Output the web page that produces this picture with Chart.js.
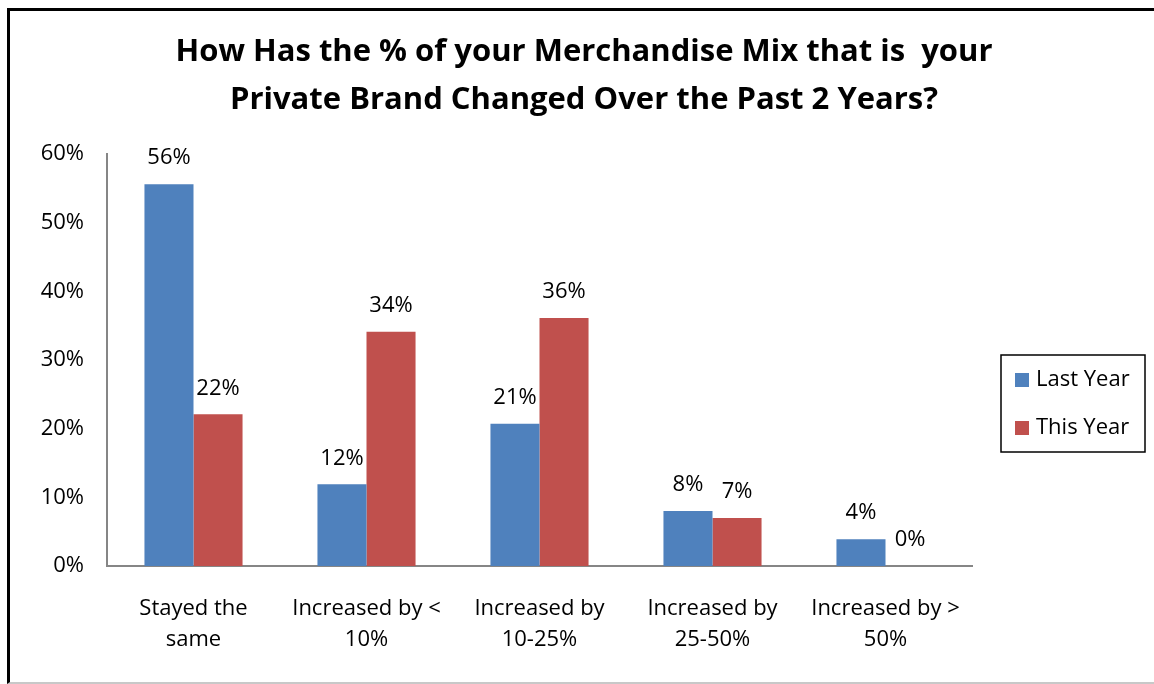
<!DOCTYPE html>
<html>
<head>
<meta charset="utf-8">
<script src="https://cdn.jsdelivr.net/npm/chart.js@4"></script>
<style>
  html, body { margin: 0; padding: 0; background: #fff; }
  #wrap { position: relative; width: 1154px; height: 684px; overflow: hidden; }
  #frame {
    position: absolute; left: 7px; top: 8px; width: 1200px; height: 676px;
    border-left: 3px solid #000; border-top: 3px solid #000;
    border-bottom: 2px solid #c8c8c8; box-sizing: border-box;
  }
  canvas { position: absolute; left: 0; top: 0; }
</style>
</head>
<body>
<div id="wrap">
  <div id="frame"></div>
  <canvas id="chart" width="1154" height="684"></canvas>
</div>
<script>
const titleLines = [
  "How Has the % of your Merchandise Mix that is  your",
  "Private Brand Changed Over the Past 2 Years?",
];
const categories = [
  ["Stayed the", "same"],
  ["Increased by <", "10%"],
  ["Increased by", "10-25%"],
  ["Increased by", "25-50%"],
  ["Increased by >", "50%"],
];
const lastYear = [55.6, 11.9, 20.7, 8.0, 3.9];
const thisYear = [22.1, 34.1, 36.1, 7.0, 0];
const seriesNames = ["Last Year", "This Year"];
const seriesColors = ["#4F81BD", "#C0504D"];

const FONT = "'Open Sans', Lato, sans-serif";

const extras = {
  id: "extras",
  afterDatasetsDraw(chart) {
    const { ctx } = chart;
    ctx.save();
    ctx.fillStyle = "#000";
    ctx.font = `22px ${FONT}`;
    ctx.textAlign = "center";
    ctx.textBaseline = "middle";
    chart.data.datasets.forEach((ds, i) => {
      chart.getDatasetMeta(i).data.forEach((bar, j) => {
        ctx.fillText(`${Math.round(ds.data[j])}%`, bar.x, bar.y - 26);
      });
    });
    ctx.restore();
  },
  afterDraw(chart) {
    const { ctx } = chart;
    ctx.save();
    // title
    ctx.fillStyle = "#000";
    ctx.font = `bold 31px ${FONT}`;
    ctx.textAlign = "center";
    ctx.textBaseline = "middle";
    titleLines.forEach((line, i) => ctx.fillText(line, 584, 52 + i * 48));

    // legend box
    ctx.strokeStyle = "#000";
    ctx.lineWidth = 1.5;
    ctx.strokeRect(1001, 355, 144, 97);
    ctx.font = `22px ${FONT}`;
    ctx.textAlign = "left";
    seriesNames.forEach((name, i) => {
      const y = 380 + i * 48;
      ctx.fillStyle = seriesColors[i];
      ctx.fillRect(1015, y - 7, 14, 14);
      ctx.fillStyle = "#000";
      ctx.fillText(name, 1036, y);
    });
    ctx.restore();
  },
};

new Chart(document.getElementById("chart"), {
  type: "bar",
  data: {
    labels: categories,
    datasets: [
      { label: seriesNames[0], data: lastYear, backgroundColor: seriesColors[0] },
      { label: seriesNames[1], data: thisYear, backgroundColor: seriesColors[1] },
    ],
  },
  options: {
    responsive: false,
    animation: false,
    events: [],
    layout: { padding: { left: 14, right: 182, top: 154, bottom: 0 } },
    datasets: { bar: { categoryPercentage: 0.567, barPercentage: 1 } },
    plugins: { legend: { display: false }, title: { display: false }, tooltip: { enabled: false } },
    scales: {
      x: {
        grid: { display: false, drawTicks: false },
        border: { color: "#868686", width: 2 },
        ticks: { color: "#000", font: { family: FONT, size: 22, lineHeight: 1.41 }, padding: 27, maxRotation: 0, autoSkip: false },
        afterFit: (scale) => { scale.height = 118; },
      },
      y: {
        min: 0,
        max: 60,
        grid: { display: false, drawTicks: false },
        border: { color: "#868686", width: 2 },
        ticks: {
          stepSize: 10,
          color: "#000",
          font: { family: FONT, size: 22 },
          padding: 23,
          callback: (v) => `${v}%`,
        },
        afterFit: (scale) => { scale.width = 93; },
      },
    },
  },
  plugins: [extras],
});
</script>
</body>
</html>
